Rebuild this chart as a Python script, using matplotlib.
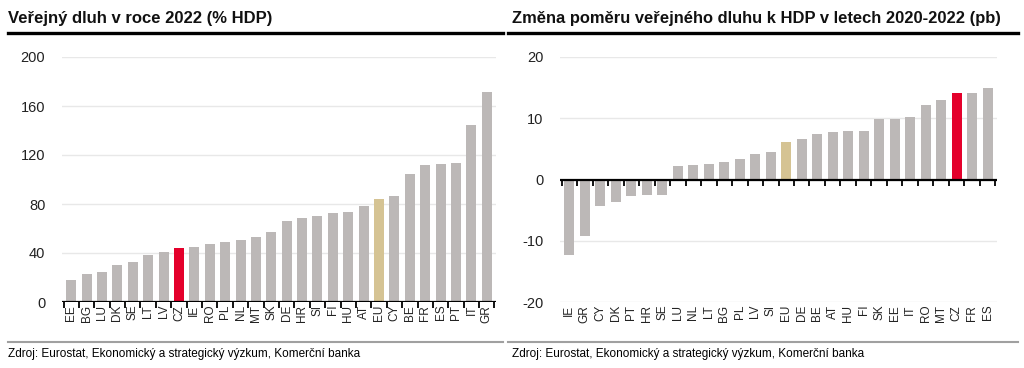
import matplotlib.pyplot as plt
from matplotlib.lines import Line2D

plt.rcParams['font.family'] = ['Liberation Sans', 'DejaVu Sans']

# levý graf: veřejný dluh 2022 (% HDP)
debt_countries = ['EE', 'BG', 'LU', 'DK', 'SE', 'LT', 'LV', 'CZ', 'IE', 'RO', 'PL', 'NL', 'MT', 'SK',
                  'DE', 'HR', 'SI', 'FI', 'HU', 'AT', 'EU', 'CY', 'BE', 'FR', 'ES', 'PT', 'IT', 'GR']
debt_values = [18.2, 22.8, 24.4, 29.8, 32.8, 38.3, 40.7, 44.2, 44.5, 47.2, 49.1, 50.7, 53.2, 57.5,
               66.2, 68.4, 70.0, 72.7, 73.3, 78.4, 83.9, 86.3, 104.7, 111.5, 112.9, 113.7, 144.1, 171.2]

# pravý graf: změna 2020-2022 (pb)
chg_countries = ['IE', 'GR', 'CY', 'DK', 'PT', 'HR', 'SE', 'LU', 'NL', 'LT', 'BG', 'PL', 'LV', 'SI',
                 'EU', 'DE', 'BE', 'AT', 'HU', 'FI', 'SK', 'EE', 'IT', 'RO', 'MT', 'CZ', 'FR', 'ES']
chg_values = [-12.3, -9.3, -4.3, -3.6, -2.7, -2.6, -2.5, 2.2, 2.4, 2.55, 2.8, 3.4, 4.2, 4.45,
              6.2, 6.6, 7.4, 7.7, 8.0, 8.0, 9.8, 9.9, 10.2, 12.1, 13.0, 14.1, 14.1, 14.9]

GREY = '#bcb8b7'
RED = '#e4002b'
GOLD = '#d5c393'


def colors_for(labels):
    out = []
    for c in labels:
        if c == 'CZ':
            out.append(RED)
        elif c == 'EU':
            out.append(GOLD)
        else:
            out.append(GREY)
    return out


def draw_panel(ax, labels, values, yticks):
    x = range(len(labels))
    ax.bar(x, values, width=0.65, color=colors_for(labels), zorder=2)
    ax.set_xlim(-0.6, len(labels) - 0.4)
    ax.set_ylim(yticks[0], yticks[-1])
    ax.set_yticks(yticks)
    ax.set_yticklabels([str(t) for t in yticks], fontsize=10.5, color='#222222')
    ax.set_xticks(list(x))
    ax.set_xticklabels(labels, rotation=90, fontsize=8.5, color='#222222')
    ax.grid(axis='y', color='#e8e8e8', lw=1, zorder=0)
    for s in ax.spines.values():
        s.set_visible(False)
    ax.axhline(0, color='black', lw=1.6, zorder=3)
    ax.tick_params(axis='y', length=0, pad=12)
    ax.tick_params(axis='x', length=0, pad=2)
    # čárky dolů na nulové ose mezi sloupci
    edges = [i - 0.5 for i in range(len(labels) + 1)]
    ax.plot(edges, [0] * len(edges), linestyle='none', marker=3, markersize=4,
            markeredgewidth=1.3, color='black', clip_on=False, zorder=4)


fig = plt.figure(figsize=(10.24, 3.68), dpi=100)

ax1 = fig.add_axes([62 / 1024, 1 - 302 / 368, (496 - 62) / 1024, (302 - 57) / 368])
draw_panel(ax1, debt_countries, debt_values, [0, 40, 80, 120, 160, 200])

ax2 = fig.add_axes([560 / 1024, 1 - 302 / 368, (997 - 560) / 1024, (302 - 57) / 368])
draw_panel(ax2, chg_countries, chg_values, [-20, -10, 0, 10, 20])

# titulky, čáry, zdroje
fig.text(8 / 1024, 1 - 18 / 368, 'Veřejný dluh v roce 2022 (% HDP)', fontsize=12,
         fontweight='bold', va='center', ha='left', color='#111111')
fig.text(512 / 1024, 1 - 18 / 368, 'Změna poměru veřejného dluhu k HDP v letech 2020-2022 (pb)',
         fontsize=11.9, fontweight='bold', va='center', ha='left', color='#111111')
fig.add_artist(Line2D([8 / 1024, 503 / 1024], [1 - 33 / 368] * 2, color='black', lw=2.4))
fig.add_artist(Line2D([508 / 1024, 1018 / 1024], [1 - 33 / 368] * 2, color='black', lw=2.4))
fig.add_artist(Line2D([8 / 1024, 503 / 1024], [1 - 342 / 368] * 2, color='#a0a0a0', lw=1.5))
fig.add_artist(Line2D([508 / 1024, 1018 / 1024], [1 - 342 / 368] * 2, color='#a0a0a0', lw=1.5))
src = 'Zdroj: Eurostat, Ekonomický a strategický výzkum, Komerční banka'
fig.text(8 / 1024, 1 - 354 / 368, src, fontsize=8.5, va='center', ha='left',
         family=['Liberation Sans Narrow', 'Liberation Sans', 'DejaVu Sans'])
fig.text(512 / 1024, 1 - 354 / 368, src, fontsize=8.5, va='center', ha='left',
         family=['Liberation Sans Narrow', 'Liberation Sans', 'DejaVu Sans'])

fig.savefig('out.png', dpi=100)
